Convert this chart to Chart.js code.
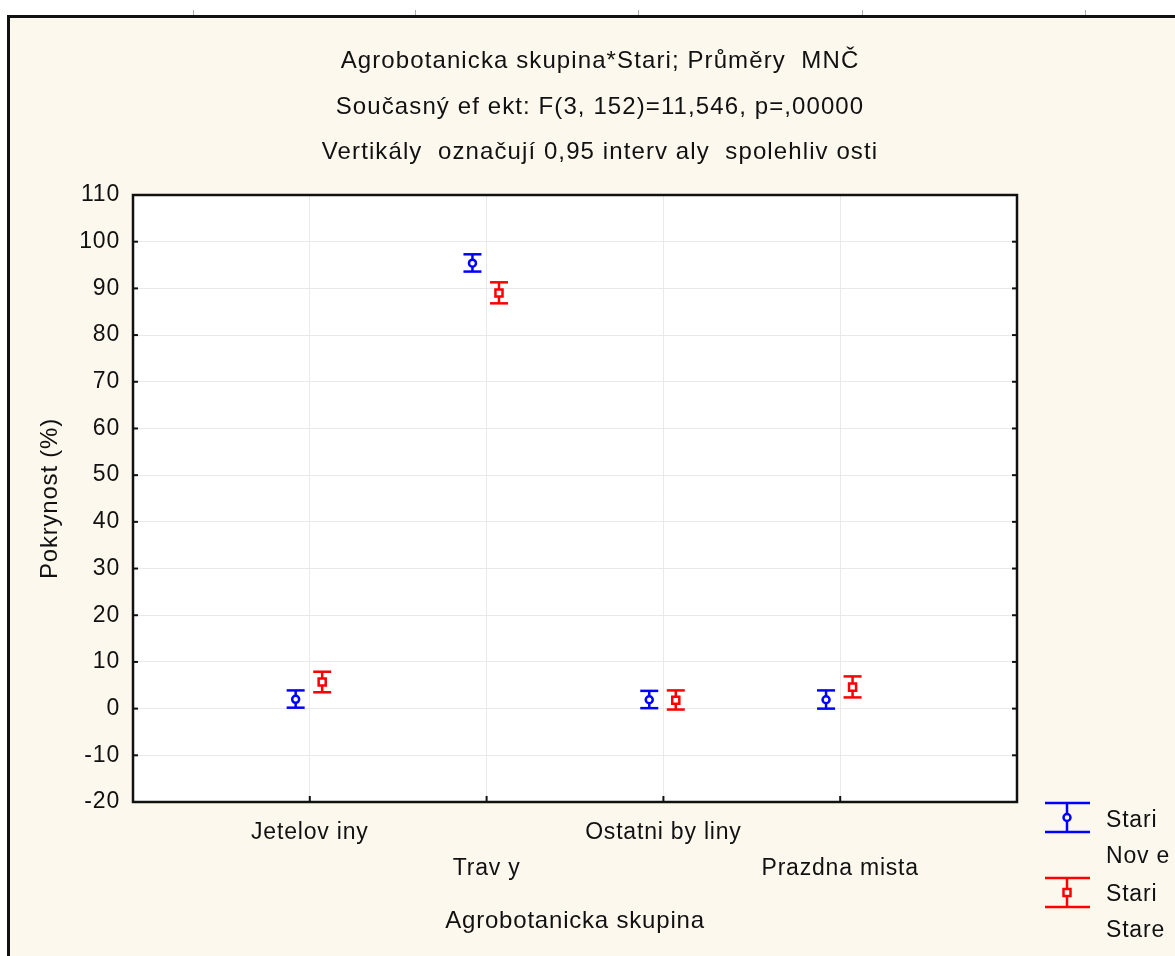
<!DOCTYPE html>
<html>
<head>
<meta charset="utf-8">
<script src="https://cdn.jsdelivr.net/npm/chart.js@4.4.0/dist/chart.umd.min.js"></script>
<style>
html, body { margin: 0; padding: 0; background: #fff; }
#wrap { width: 1175px; height: 956px; }
</style>
</head>
<body>
<div id="wrap"><canvas id="chart" width="1175" height="956"></canvas></div>
<script>
// data
const categories = ['Jetelov iny', 'Trav y', 'Ostatni by liny', 'Prazdna mista'];
const yTickValues = [-20, -10, 0, 10, 20, 30, 40, 50, 60, 70, 80, 90, 100, 110];
const titleLines = [
    'Agrobotanicka skupina*Stari; Průměry  MNČ',
    'Současný ef ekt: F(3, 152)=11,546, p=,00000',
    'Vertikály  označují 0,95 interv aly  spolehliv osti'
];
const xTitle = 'Agrobotanicka skupina';
const yTitle = 'Pokrynost (%)';
const legendNove = ['Stari', 'Nov e'];
const legendStare = ['Stari', 'Stare'];

const noveMean = [2.0, 95.4, 1.9, 1.9];
const noveLow = [0.2, 93.6, 0.1, 0.0];
const noveHigh = [3.9, 97.3, 3.8, 3.9];

const stareMean = [5.7, 89.0, 1.8, 4.6];
const stareLow = [3.5, 86.8, -0.2, 2.4];
const stareHigh = [7.9, 91.3, 3.9, 6.9];

const FONT = "'Liberation Sans', Arial, sans-serif";
const BLUE = '#0000ff';
const RED = '#ff0000';
const TEXT = '#111';

function makePoints(mean, low, high, shift) {
    return mean.map((m, i) => ({ x: i + 1 + shift, y: m, low: low[i], high: high[i] }));
}

function line(ctx, x1, y1, x2, y2) {
    ctx.beginPath();
    ctx.moveTo(x1, y1);
    ctx.lineTo(x2, y2);
    ctx.stroke();
}

// panel background, plot background, ruler marks
const panelPlugin = {
    id: 'panel',
    beforeLayout(chart) { chart.ctx.letterSpacing = '0.8px'; },
    beforeDraw(chart) {
        const ctx = chart.ctx;
        const a = chart.chartArea;
        ctx.letterSpacing = '0.8px';
        ctx.save();
        ctx.fillStyle = '#ffffff';
        ctx.fillRect(0, 0, chart.width, chart.height);
        ctx.fillStyle = '#fdf8ee';
        ctx.fillRect(8, 16, chart.width - 8, chart.height - 16);
        ctx.strokeStyle = '#111';
        ctx.lineWidth = 3;
        ctx.beginPath();
        ctx.moveTo(8.5, chart.height);
        ctx.lineTo(8.5, 16.5);
        ctx.lineTo(chart.width, 16.5);
        ctx.stroke();
        ctx.strokeStyle = '#aaa';
        ctx.lineWidth = 1;
        [193, 415, 638, 862, 1085].forEach(px => line(ctx, px + 0.5, 10, px + 0.5, 15));
        ctx.fillStyle = '#ffffff';
        ctx.fillRect(a.left, a.top, a.right - a.left, a.bottom - a.top);
        ctx.restore();
    }
};

// vertical 0,95 interval bars
const errorBarPlugin = {
    id: 'errorBars',
    beforeDatasetsDraw(chart) {
        const { ctx, scales: { x, y } } = chart;
        chart.data.datasets.forEach(ds => {
            ctx.save();
            ctx.strokeStyle = ds.borderColor;
            ctx.lineWidth = 2.5;
            ds.data.forEach(pt => {
                const px = x.getPixelForValue(pt.x);
                const top = y.getPixelForValue(pt.high);
                const bot = y.getPixelForValue(pt.low);
                line(ctx, px, top, px, bot);
                line(ctx, px - 9, top, px + 9, top);
                line(ctx, px - 9, bot, px + 9, bot);
            });
            ctx.restore();
        });
    }
};

// frame, inner ticks, titles and legend
const framePlugin = {
    id: 'frame',
    afterDraw(chart) {
        const { ctx, scales: { x, y } } = chart;
        const a = chart.chartArea;
        ctx.save();
        ctx.strokeStyle = '#111';
        ctx.lineWidth = 2.5;
        ctx.strokeRect(a.left, a.top, a.right - a.left, a.bottom - a.top);
        ctx.lineWidth = 2;
        yTickValues.forEach(v => {
            const py = y.getPixelForValue(v);
            line(ctx, a.left, py, a.left + 5, py);
            line(ctx, a.right, py, a.right - 5, py);
        });
        categories.forEach((c, i) => {
            const px = x.getPixelForValue(i + 1);
            line(ctx, px, a.bottom, px, a.bottom - 6);
        });

        ctx.fillStyle = TEXT;
        ctx.font = '24px ' + FONT;
        ctx.letterSpacing = '1.1px';
        ctx.textAlign = 'center';
        ctx.textBaseline = 'alphabetic';
        titleLines.forEach((t, i) => ctx.fillText(t, 600, 68 + i * 45.5));

        // legend
        ctx.font = '23px ' + FONT;
        ctx.letterSpacing = '0.8px';
        ctx.textAlign = 'left';
        const drawSym = (cy, color, square) => {
            ctx.strokeStyle = color;
            ctx.lineWidth = 2.5;
            line(ctx, 1045, cy - 14.5, 1090, cy - 14.5);
            line(ctx, 1045, cy + 14.5, 1090, cy + 14.5);
            line(ctx, 1067, cy - 14.5, 1067, cy + 14.5);
            ctx.fillStyle = '#fff';
            ctx.lineWidth = 2.5;
            ctx.beginPath();
            if (square) ctx.rect(1063.5, cy - 3.5, 7, 7);
            else ctx.arc(1067, cy, 3.5, 0, Math.PI * 2);
            ctx.fill();
            ctx.stroke();
        };
        drawSym(817.5, BLUE, false);
        drawSym(892.5, RED, true);
        ctx.fillStyle = TEXT;
        ctx.fillText(legendNove[0], 1106, 827);
        ctx.fillText(legendNove[1], 1106, 863);
        ctx.fillText(legendStare[0], 1106, 901);
        ctx.fillText(legendStare[1], 1106, 937);
        ctx.restore();
    }
};

const ctx = document.getElementById('chart');
new Chart(ctx, {
    type: 'scatter',
    data: {
        datasets: [
            {
                label: legendNove.join(' '),
                data: makePoints(noveMean, noveLow, noveHigh, -0.08),
                borderColor: BLUE,
                backgroundColor: '#ffffff',
                pointStyle: 'circle',
                pointRadius: 3.5,
                pointBorderWidth: 2.5,
                showLine: false
            },
            {
                label: legendStare.join(' '),
                data: makePoints(stareMean, stareLow, stareHigh, 0.07),
                borderColor: RED,
                backgroundColor: '#ffffff',
                pointStyle: 'rect',
                pointRadius: 5,
                pointBorderWidth: 2.5,
                showLine: false
            }
        ]
    },
    options: {
        responsive: false,
        animation: false,
        devicePixelRatio: 1,
        layout: { padding: { top: 195, right: 158, left: 0, bottom: 0 } },
        plugins: {
            legend: { display: false },
            tooltip: { enabled: false },
            title: { display: false }
        },
        scales: {
            x: {
                type: 'linear',
                min: 0,
                max: 5,
                afterBuildTicks(scale) {
                    scale.ticks = categories.map((c, i) => ({ value: i + 1 }));
                },
                afterFit(scale) { scale.height = 154; },
                ticks: {
                    color: TEXT,
                    font: { family: FONT, size: 23, lineHeight: 1.55 },
                    padding: 13,
                    maxRotation: 0,
                    autoSkip: false,
                    callback(value) {
                        const i = Math.round(value) - 1;
                        return i % 2 === 0 ? [categories[i], ''] : ['', categories[i]];
                    }
                },
                grid: { color: '#e9e9e9', lineWidth: 1, drawTicks: false },
                border: { display: false },
                title: {
                    display: true,
                    text: xTitle,
                    color: TEXT,
                    font: { family: FONT, size: 24 },
                    padding: { top: 0, bottom: 20 }
                }
            },
            y: {
                min: -20,
                max: 110,
                afterBuildTicks(scale) {
                    scale.ticks = yTickValues.map(v => ({ value: v }));
                },
                afterFit(scale) { scale.width = 133; },
                ticks: {
                    color: TEXT,
                    font: { family: FONT, size: 23 },
                    padding: 13
                },
                grid: { color: '#e9e9e9', lineWidth: 1, drawTicks: false },
                border: { display: false },
                title: {
                    display: true,
                    text: yTitle,
                    color: TEXT,
                    font: { family: FONT, size: 24 },
                    padding: { top: 36, bottom: 0 }
                }
            }
        }
    },
    plugins: [panelPlugin, errorBarPlugin, framePlugin]
});
</script>
</body>
</html>
